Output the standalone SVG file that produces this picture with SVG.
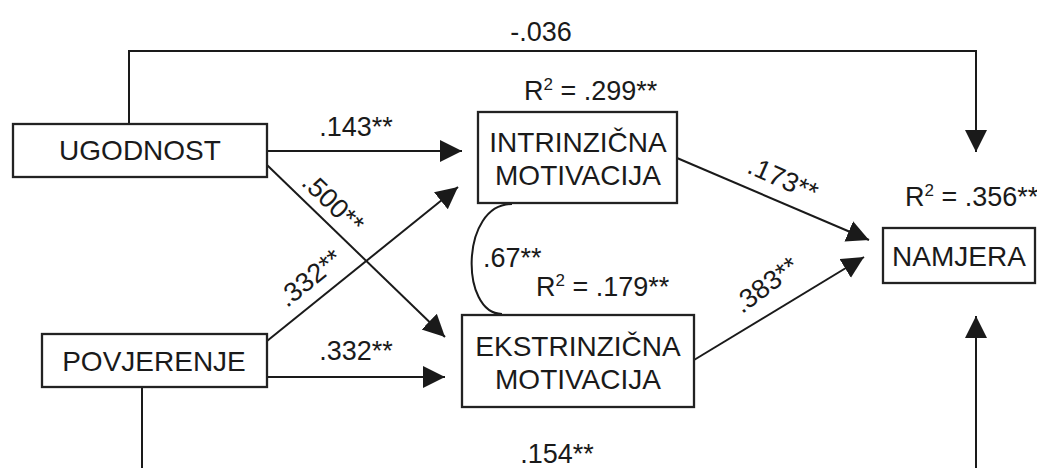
<svg xmlns="http://www.w3.org/2000/svg" width="1037" height="468" viewBox="0 0 1037 468">
<style>
.box{fill:#fff;stroke:#222;stroke-width:2.3}
.n{font-family:"Liberation Sans",Arial,sans-serif;font-size:28px;fill:#1a1a1a;text-anchor:middle}
.l{font-family:"Liberation Sans",Arial,sans-serif;font-size:27px;fill:#1a1a1a}
.c{fill:none;stroke:#1a1a1a;stroke-width:2}
.sup{font-size:17px}
</style>
<defs>
<marker id="ah" markerUnits="userSpaceOnUse" markerWidth="24" markerHeight="24" refX="22" refY="11" orient="auto">
<path d="M0,0 L22,11 L0,22 z" fill="#1a1a1a"/>
</marker>
</defs>
<rect width="1037" height="468" fill="#fff"/>
<g id="connectors">
<path class="c" d="M129 124 V51 H976 V152" marker-end="url(#ah)"/>
<path class="c" d="M142 387 V474 H976 V316" marker-end="url(#ah)"/>
<path class="c" d="M267 151 H462" marker-end="url(#ah)"/>
<path class="c" d="M267 165 L445 337" marker-end="url(#ah)"/>
<path class="c" d="M267 341 L458 187" marker-end="url(#ah)"/>
<path class="c" d="M267 377 H445" marker-end="url(#ah)"/>
<path class="c" d="M677 158 L869 240" marker-end="url(#ah)"/>
<path class="c" d="M694 360 L864 257" marker-end="url(#ah)"/>
<path class="c" d="M512 204 C460 204 460 314 502 314"/>
<text class="l" x="541" y="41" text-anchor="middle">-.036</text>
<text class="l" x="356" y="136" text-anchor="middle">.143**</text>
<text class="l" x="356" y="360" text-anchor="middle">.332**</text>
<text class="l" x="557" y="463" text-anchor="middle">.154**</text>
<text class="l" x="483" y="267">.67**</text>
<text class="l" text-anchor="middle" transform="translate(333,203) rotate(44)" y="9">.500**</text>
<text class="l" text-anchor="middle" transform="translate(310,278) rotate(-39)" y="9">.332**</text>
<text class="l" text-anchor="middle" transform="translate(783,179) rotate(24)" y="9">.173**</text>
<text class="l" text-anchor="middle" transform="translate(766,285) rotate(-37)" y="9">.383**</text>
</g>
<g id="ugodnost">
<rect class="box" x="13" y="124" width="254" height="53"/>
<text class="n" x="140" y="160">UGODNOST</text>
</g>
<g id="povjerenje">
<rect class="box" x="42" y="334" width="225" height="53"/>
<text class="n" x="154" y="371">POVJERENJE</text>
</g>
<g id="intrinzicna">
<rect class="box" x="478" y="112" width="199" height="91"/>
<text class="n" x="578" y="152">INTRINZIČNA</text>
<text class="n" x="578" y="185">MOTIVACIJA</text>
<text class="l" x="524" y="100">R<tspan class="sup" dy="-10">2</tspan><tspan dy="10"> = .299**</tspan></text>
</g>
<g id="ekstrinzicna">
<rect class="box" x="462" y="315" width="232" height="92"/>
<text class="n" x="578" y="356">EKSTRINZIČNA</text>
<text class="n" x="578" y="389">MOTIVACIJA</text>
<text class="l" x="536" y="296">R<tspan class="sup" dy="-10">2</tspan><tspan dy="10"> = .179**</tspan></text>
</g>
<g id="namjera">
<rect class="box" x="883" y="228" width="152" height="55"/>
<text class="n" x="959" y="266">NAMJERA</text>
<text class="l" x="905" y="206">R<tspan class="sup" dy="-10">2</tspan><tspan dy="10"> = .356**</tspan></text>
</g>
</svg>
